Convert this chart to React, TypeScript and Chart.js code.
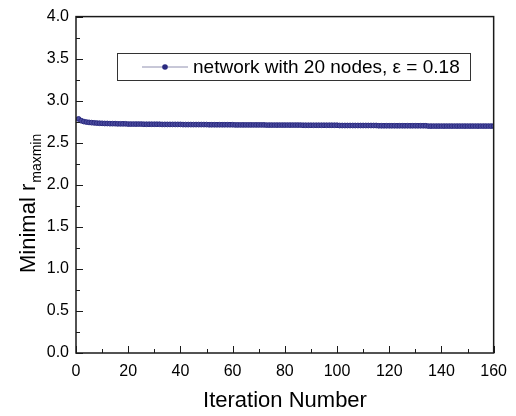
import React, { useEffect, useRef } from "react";
import { Chart, registerables } from "chart.js";

Chart.register(...registerables);

// Minimal r_maxmin found after each iteration (running best, 20-node network)
const firstIteration = 1;
const minimalRMaxmin: number[] = [
  2.783, 2.762, 2.752, 2.746, 2.742, 2.739, 2.736, 2.734, 2.732, 2.731,
  2.729, 2.729, 2.727, 2.727, 2.727, 2.725, 2.725, 2.725, 2.725, 2.722,
  2.722, 2.722, 2.722, 2.722, 2.722, 2.720, 2.720, 2.720, 2.720, 2.720,
  2.720, 2.720, 2.718, 2.718, 2.718, 2.718, 2.718, 2.718, 2.718, 2.718,
  2.716, 2.716, 2.716, 2.716, 2.716, 2.716, 2.716, 2.716, 2.716, 2.716,
  2.714, 2.714, 2.714, 2.714, 2.714, 2.714, 2.714, 2.714, 2.714, 2.714,
  2.712, 2.712, 2.712, 2.712, 2.712, 2.712, 2.712, 2.712, 2.712, 2.712,
  2.712, 2.712, 2.710, 2.710, 2.710, 2.710, 2.710, 2.710, 2.710, 2.710,
  2.710, 2.710, 2.710, 2.710, 2.710, 2.710, 2.708, 2.708, 2.708, 2.708,
  2.708, 2.708, 2.708, 2.708, 2.708, 2.708, 2.708, 2.708, 2.708, 2.708,
  2.705, 2.705, 2.705, 2.705, 2.705, 2.705, 2.705, 2.705, 2.705, 2.705,
  2.705, 2.705, 2.705, 2.705, 2.705, 2.702, 2.702, 2.702, 2.702, 2.702,
  2.702, 2.702, 2.702, 2.702, 2.702, 2.702, 2.702, 2.702, 2.702, 2.702,
  2.702, 2.702, 2.702, 2.702, 2.698, 2.698, 2.698, 2.698, 2.698, 2.698,
  2.698, 2.698, 2.698, 2.698, 2.698, 2.698, 2.698, 2.698, 2.698, 2.698,
  2.698, 2.698, 2.698, 2.698, 2.698, 2.698, 2.698, 2.698, 2.698, 2.698,
];

const xRange = [0, 160];
const xMajorStep = 20;
const xMinorStep = 10;
const yRange = [0, 4];
const yMajorStep = 0.5;
const yMinorStep = 0.25;

const seriesLabel = "network with 20 nodes, \u03b5 = 0.18";
const xTitle = "Iteration Number";
const yTitleMain = "Minimal r";
const yTitleSub = "maxmin";

const FONT = "'Liberation Sans', Arial, sans-serif";
const NAVY = "#2a2a80";
const FRAME = "#1a1a1a";

// Frame, inward tick marks, axis titles and the boxed legend
const decorations = {
  id: "decorations",
  afterDraw(chart: any) {
    const { ctx, chartArea } = chart;
    const { left, right, top, bottom } = chartArea;
    const xs = chart.scales.x;
    const ys = chart.scales.y;
    ctx.save();

    // inward ticks
    ctx.strokeStyle = FRAME;
    ctx.lineWidth = 1;
    ctx.beginPath();
    for (let v = xRange[0]; v <= xRange[1] + 1e-9; v += xMinorStep) {
      const px = Math.round(xs.getPixelForValue(v)) + 0.5;
      const major = Math.abs(v / xMajorStep - Math.round(v / xMajorStep)) < 1e-6;
      const len = major ? 7 : 4;
      ctx.moveTo(px, bottom);
      ctx.lineTo(px, bottom - len);
    }
    for (let v = yRange[0]; v <= yRange[1] + 1e-9; v += yMinorStep) {
      const py = Math.round(ys.getPixelForValue(v)) + 0.5;
      const major = Math.abs(v / yMajorStep - Math.round(v / yMajorStep)) < 1e-6;
      const len = major ? 7 : 4;
      ctx.moveTo(left, py);
      ctx.lineTo(left + len, py);
    }
    ctx.stroke();

    // frame
    ctx.lineWidth = 1.5;
    ctx.strokeRect(left, top, right - left, bottom - top);

    // x title
    ctx.fillStyle = "#000";
    ctx.font = `22px ${FONT}`;
    ctx.textAlign = "center";
    ctx.textBaseline = "alphabetic";
    ctx.fillText(xTitle, 285, 407);

    // y title with subscript, rotated
    ctx.save();
    ctx.translate(35, 273);
    ctx.rotate(-Math.PI / 2);
    ctx.textAlign = "left";
    ctx.font = `22px ${FONT}`;
    ctx.fillText(yTitleMain, 0, 0);
    const w = ctx.measureText(yTitleMain).width;
    ctx.font = `14px ${FONT}`;
    ctx.fillText(yTitleSub, w + 1, 6);
    ctx.restore();

    // legend box
    const bx = 117, by = 53, bw = 353, bh = 27;
    ctx.fillStyle = "#fff";
    ctx.fillRect(bx, by, bw, bh);
    ctx.strokeStyle = "#333";
    ctx.lineWidth = 1;
    ctx.strokeRect(bx + 0.5, by + 0.5, bw, bh);
    const ly = by + bh / 2 + 0.5;
    ctx.strokeStyle = "#9090b0";
    ctx.beginPath();
    ctx.moveTo(142, ly);
    ctx.lineTo(188, ly);
    ctx.stroke();
    ctx.fillStyle = NAVY;
    ctx.beginPath();
    ctx.arc(165, ly, 2.8, 0, Math.PI * 2);
    ctx.fill();
    ctx.fillStyle = "#000";
    ctx.font = `19px ${FONT}`;
    ctx.textAlign = "left";
    ctx.textBaseline = "middle";
    ctx.fillText(seriesLabel, 193, ly + 1);

    ctx.restore();
  },
};

export default function App() {
  const canvasRef = useRef<HTMLCanvasElement | null>(null);

  useEffect(() => {
    document.body.style.margin = "0";
    const canvas = canvasRef.current;
    if (!canvas) return;
    const points = minimalRMaxmin.map((y, i) => ({ x: firstIteration + i, y }));
    const chart = new Chart(canvas, {
      type: "line",
      data: {
        datasets: [
          {
            label: seriesLabel,
            data: points,
            borderColor: "#6a6aa8",
            borderWidth: 1,
            pointRadius: 2.4,
            pointBorderWidth: 1,
            pointBackgroundColor: "#4a4a9e",
            pointBorderColor: NAVY,
            tension: 0,
          },
        ],
      },
      options: {
        animation: false,
        responsive: false,
        devicePixelRatio: 1,
        layout: { padding: { top: 13, right: 22, left: 0, bottom: 0 } },
        plugins: { legend: { display: false }, tooltip: { enabled: false } },
        scales: {
          x: {
            type: "linear",
            min: xRange[0],
            max: xRange[1],
            afterFit: (s: any) => {
              s.height = 63;
            },
            grid: { display: false, drawTicks: false },
            border: { display: false },
            ticks: {
              stepSize: xMajorStep,
              padding: 9,
              color: "#000",
              font: { family: FONT, size: 16 },
              maxRotation: 0,
            },
          },
          y: {
            type: "linear",
            min: yRange[0],
            max: yRange[1],
            afterFit: (s: any) => {
              s.width = 76;
            },
            grid: { display: false, drawTicks: false },
            border: { display: false },
            ticks: {
              stepSize: yMajorStep,
              padding: 7,
              color: "#000",
              font: { family: FONT, size: 16 },
              callback: (v: any) => Number(v).toFixed(1),
            },
          },
        },
      },
      plugins: [decorations],
    });
    return () => chart.destroy();
  }, []);

  return (
    <div style={{ position: "fixed", left: 0, top: 0, width: 516, height: 416, background: "#fff" }}>
      <canvas ref={canvasRef} width={516} height={416} />
    </div>
  );
}
